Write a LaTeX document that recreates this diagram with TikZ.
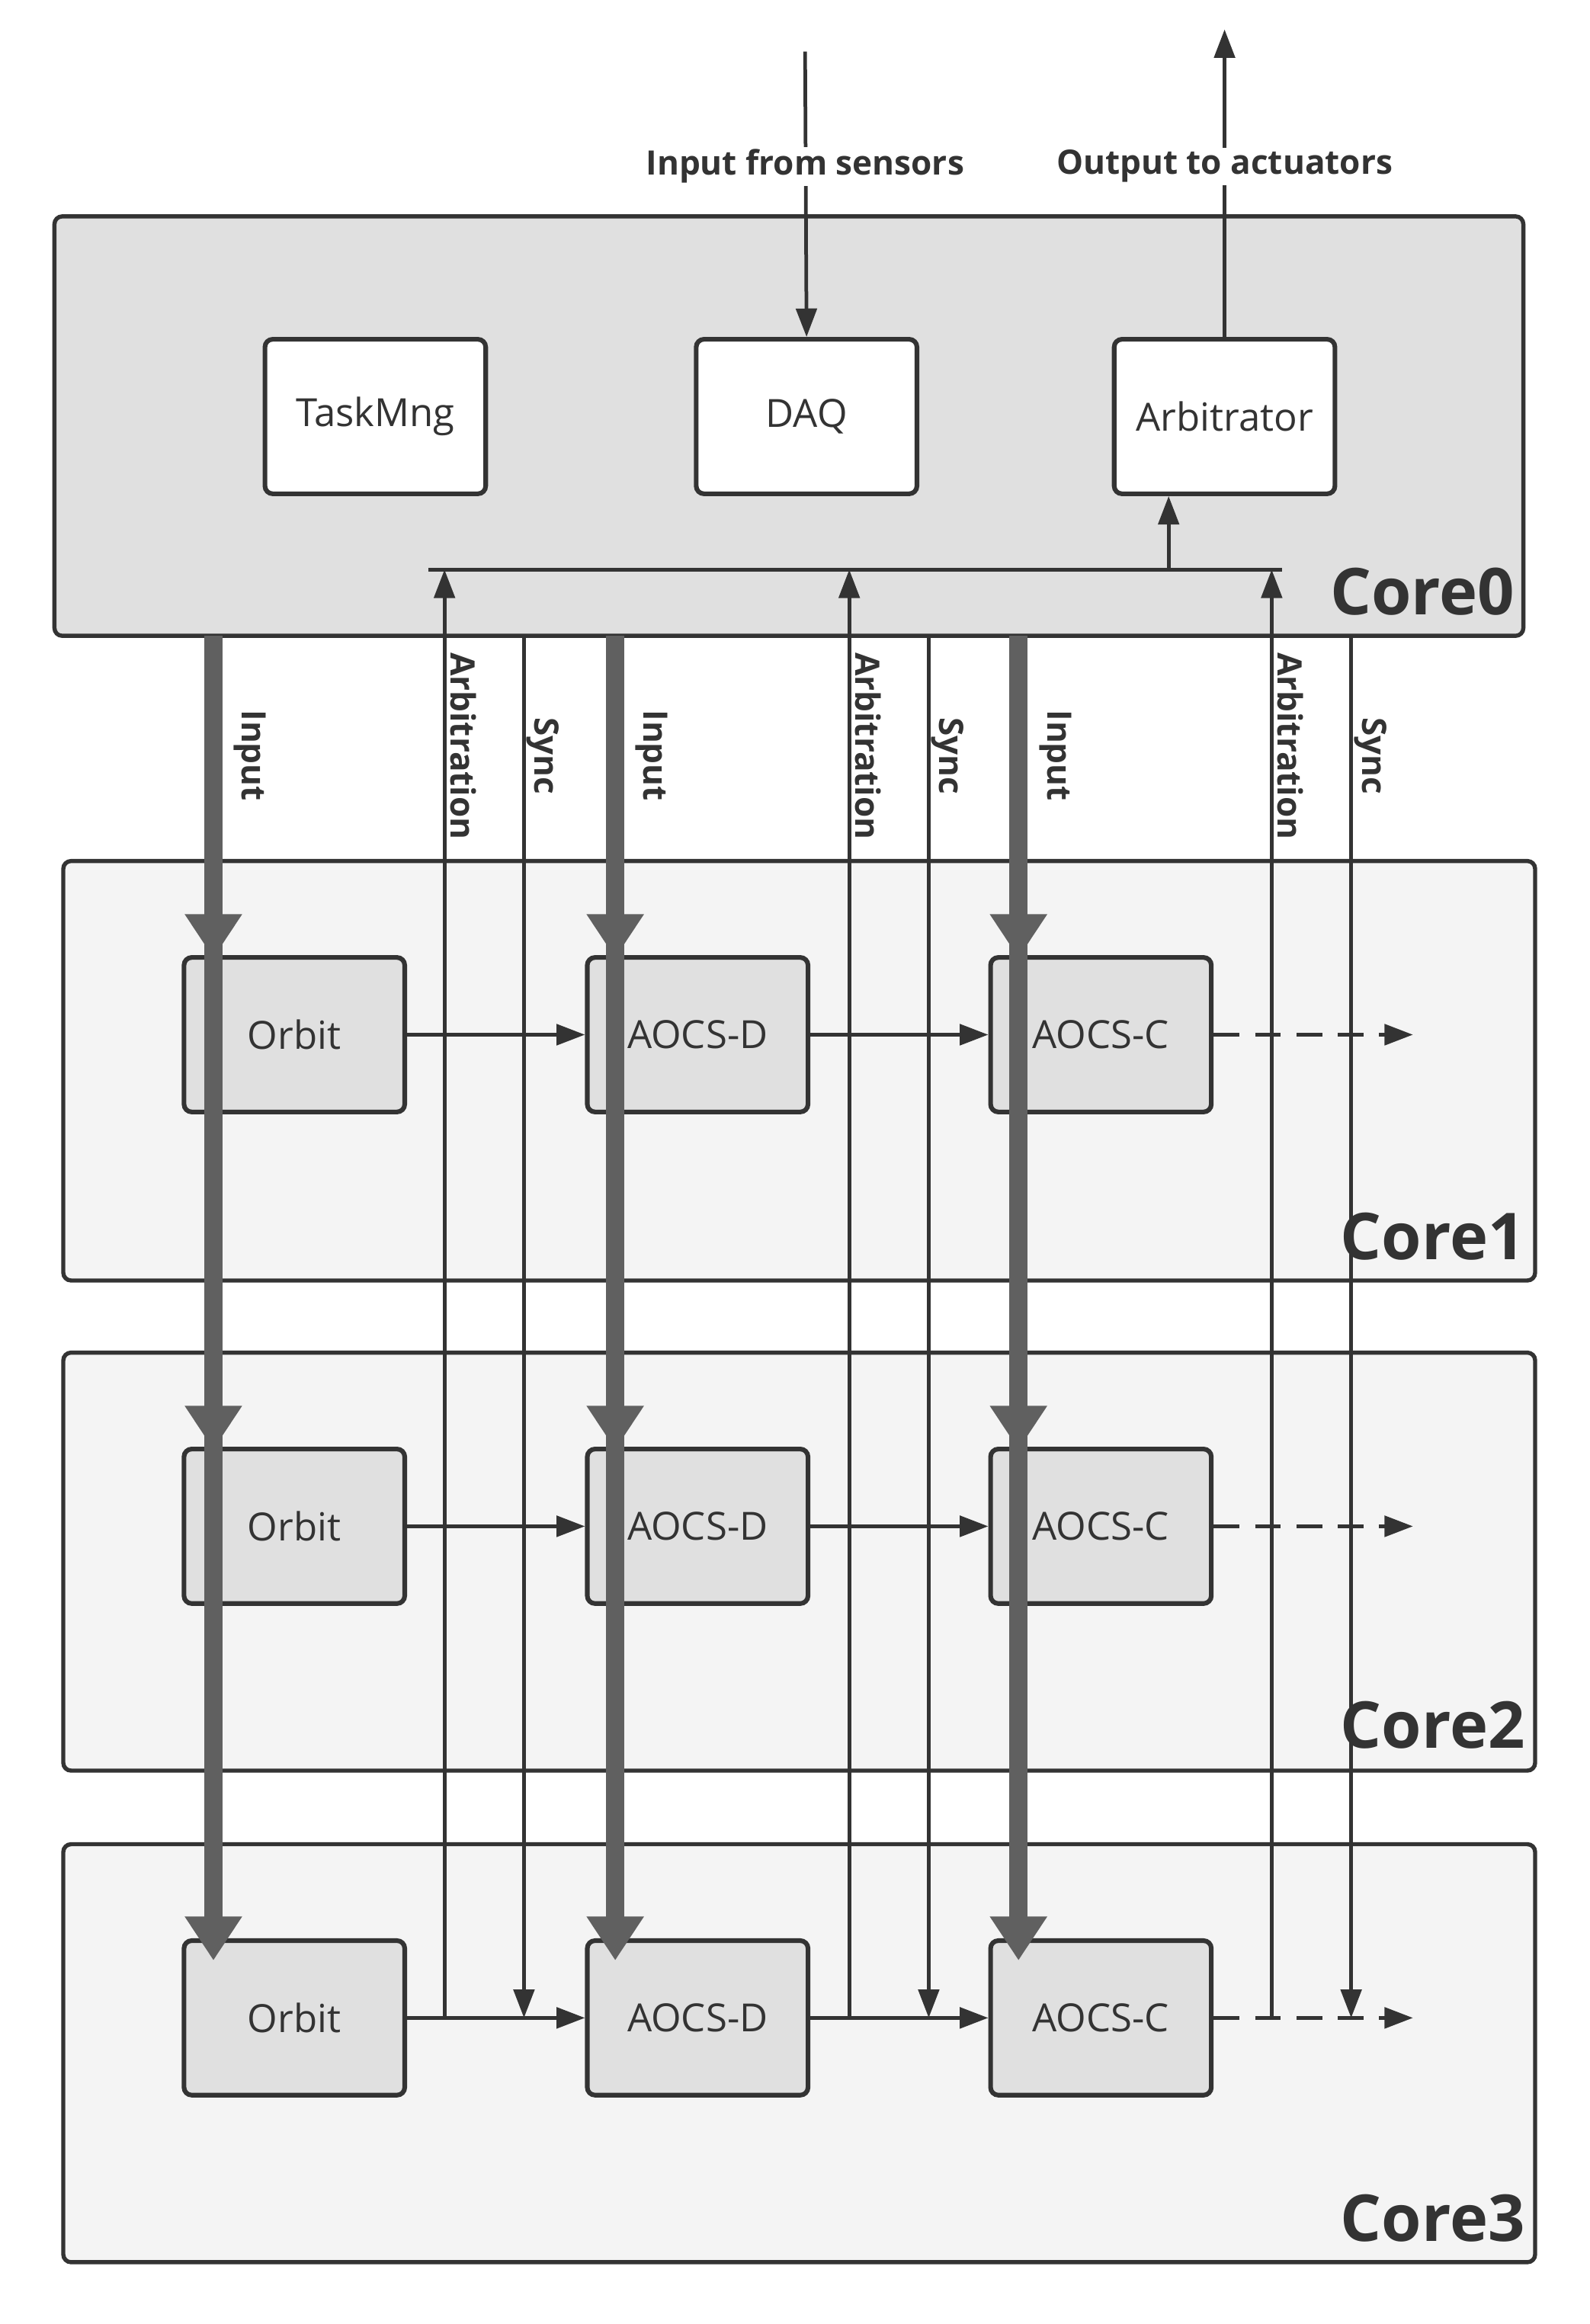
\documentclass[tikz,border=0pt]{standalone}
\usepackage{fontspec}
\setmainfont{Open Sans}
\usetikzlibrary{arrows.meta}
\definecolor{linec}{HTML}{333333}
\definecolor{thickc}{HTML}{606060}
\begin{document}
\begin{tikzpicture}[x=0.02cm,y=-0.02cm,
  core/.style={draw=linec,line width=1.6pt,rounded corners=3pt},
  box/.style={draw=linec,line width=1.8pt,rounded corners=3pt,minimum width=3cm,minimum height=2.1cm,font=\fontsize{15}{18}\selectfont,text=linec,inner sep=0pt},
  conn/.style={draw=linec,line width=1.4pt,-{Triangle[length=11pt,width=8pt]}},
  plain/.style={draw=linec,line width=1.4pt},
  thickin/.style={draw=thickc,line width=7pt,-{Triangle[length=17pt,width=21pt]}},
  lab/.style={font=\bfseries\fontsize{13}{15}\selectfont,text=linec},
  vlab/.style={font=\bfseries\fontsize{13}{15}\selectfont,text=linec,rotate=-90,anchor=west,inner sep=0pt},
  corelab/.style={font=\bfseries\fontsize{25}{28}\selectfont,text=linec,anchor=south east,inner sep=2pt}]
\useasboundingbox (0,0) rectangle (1080,1579);
% core boxes
\draw[core,fill={rgb,255:red,224;green,224;blue,224}] (37,147) rectangle (1035,432);
\draw[core,fill={rgb,255:red,244;green,244;blue,244}] (43,585) rectangle (1043,870);
\draw[core,fill={rgb,255:red,244;green,244;blue,244}] (43,919) rectangle (1043,1203);
\draw[core,fill={rgb,255:red,244;green,244;blue,244}] (43,1253) rectangle (1043,1537);
\node[corelab] at (1033,422) {Core0};
\node[corelab] at (1040,860) {Core1};
\node[corelab] at (1040,1192) {Core2};
\node[corelab] at (1040,1527) {Core3};
% core0 boxes
\node[box,fill=white] (tm) at (255,283) {TaskMng};
\node[box,fill=white] (daq) at (548,283) {DAQ};
\node[box,fill=white] (arb) at (832,283) {Arbitrator};
\coordinate (insrc) at (547,35);
\coordinate (outdst) at (832,20);
\draw[conn] (insrc) -- (daq.north);
\draw[conn] (arb.north) -- (outdst);
\node[lab,fill=white,inner sep=1pt] at (547,113) {Input from sensors};
\node[lab,fill=white,inner sep=1pt] at (832,113) {Output to actuators};
% bus
\coordinate (busL) at (291,387);
\coordinate (busR) at (871,387);
\draw[plain] (busL) -- (busR);
\coordinate (busA) at (794,387);
\draw[conn] (busA) -- (arb.south -| busA);
% rows
\foreach \r/\y in {1/703,2/1037,3/1371}{
  \node[box,fill={rgb,255:red,224;green,224;blue,224}] (o\r) at (200,\y) {Orbit};
  \node[box,fill={rgb,255:red,224;green,224;blue,224}] (d\r) at (474,\y) {AOCS-D};
  \node[box,fill={rgb,255:red,224;green,224;blue,224}] (c\r) at (748,\y) {AOCS-C};
  \coordinate (e\r) at (960,\y);
  \draw[conn] (o\r) -- (d\r);
  \draw[conn] (d\r) -- (c\r);
  \draw[conn,dash pattern=on 10pt off 6pt] (c\r) -- (e\r);
}
% thick input lines
\foreach \x/\n in {145/o,418/d,692/c}{
  \coordinate (top\n) at (\x,432);
  \draw[thickin] (top\n) -- (\x,1332);
  \draw[thickin] (\x,600) -- (\x,651);
  \draw[thickin] (\x,935) -- (\x,985);
  \node[vlab] at (\x+25,482) {Input};
}
% arbitration and sync
\foreach \ax/\sx in {302/356,577/631,864/918}{
  \coordinate (as\ax) at (\ax,1371);
  \coordinate (ab\ax) at (\ax,387);
  \draw[conn] (as\ax) -- (ab\ax);
  \coordinate (ss\sx) at (\sx,432);
  \coordinate (se\sx) at (\sx,1371);
  \draw[conn] (ss\sx) -- (se\sx);
  \node[vlab] at (\ax+13,443) {Arbitration};
  \node[vlab] at (\sx+13,487) {Sync};
}
\end{tikzpicture}
\end{document}
